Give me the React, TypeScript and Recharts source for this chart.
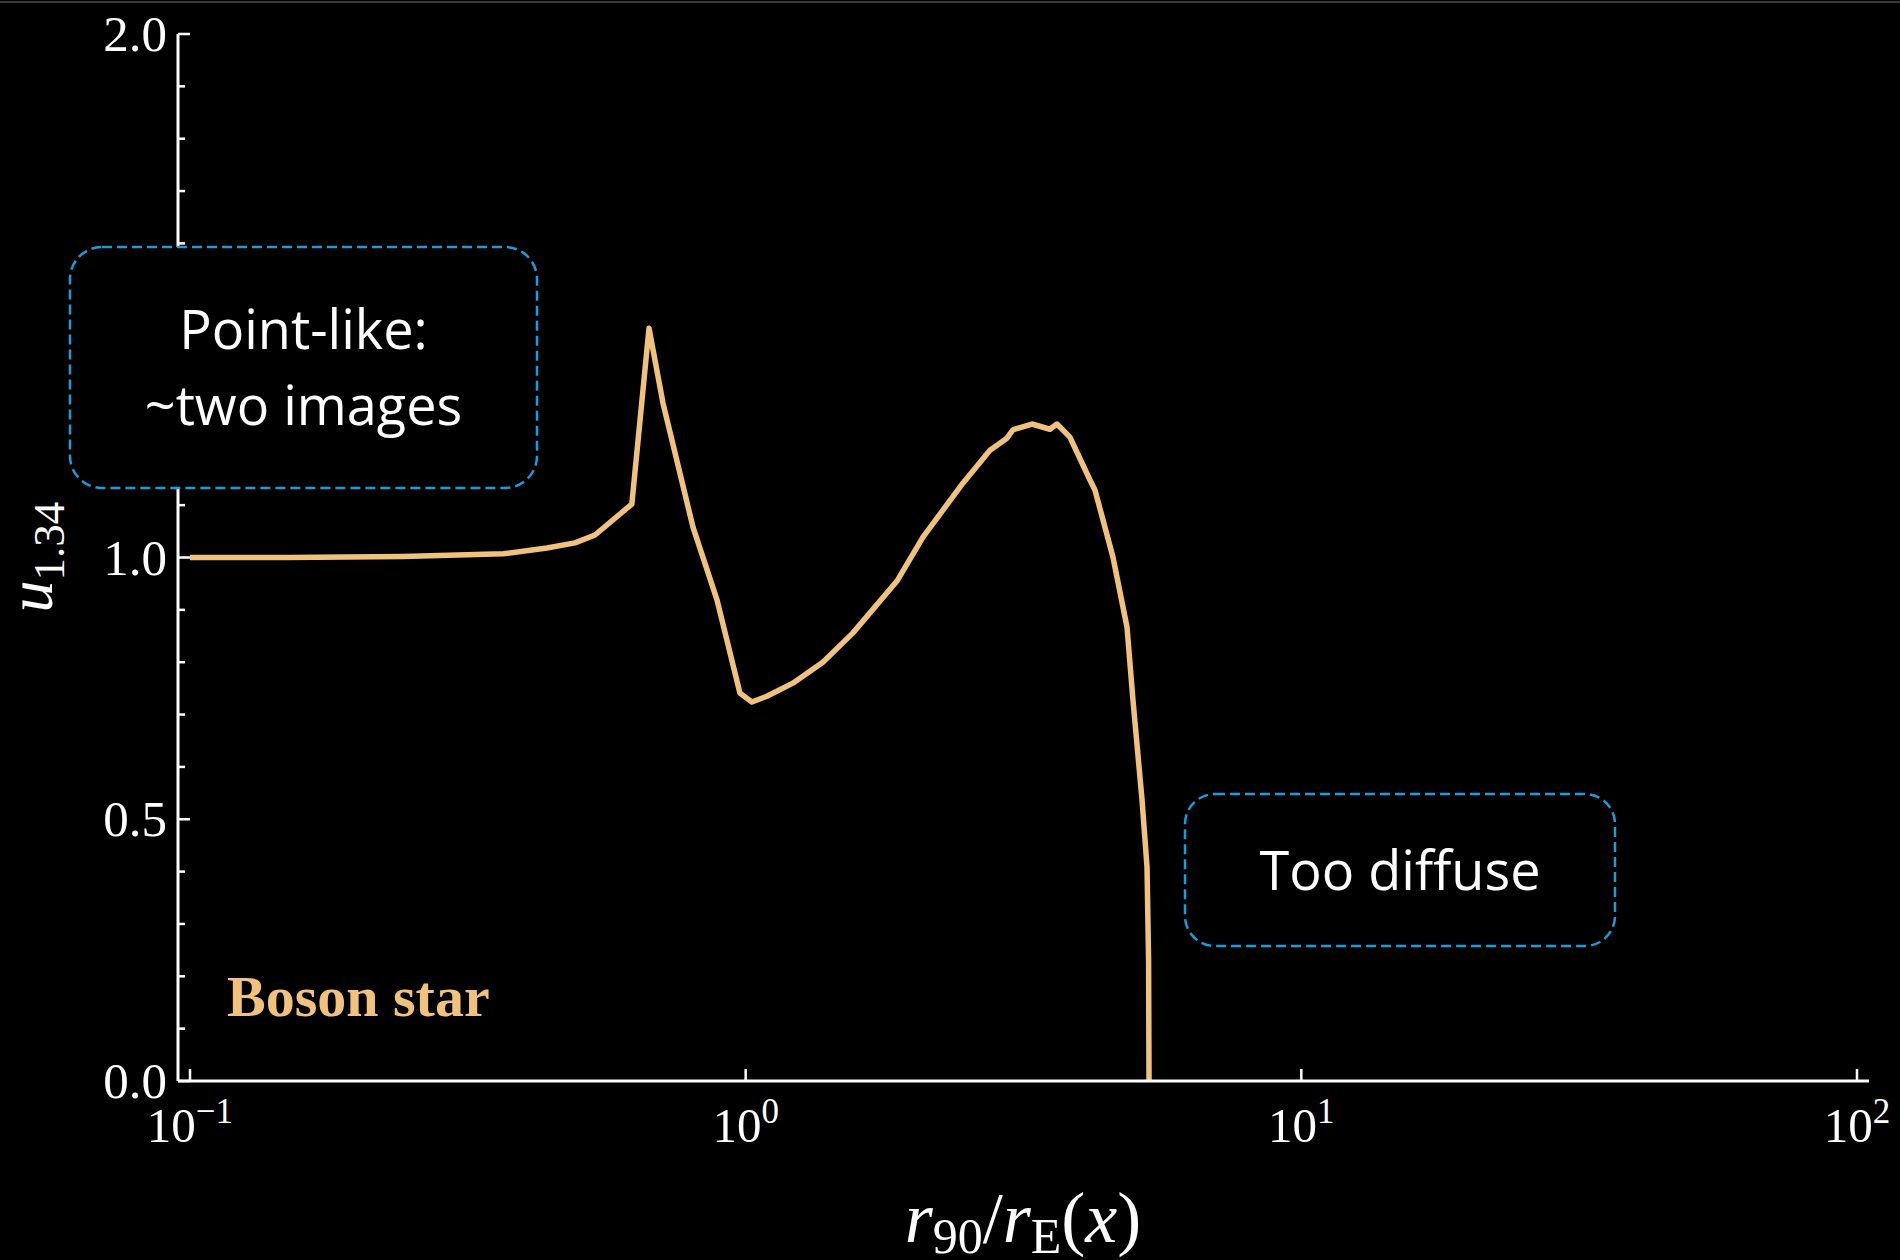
import { LineChart, Line, XAxis, YAxis } from "recharts";

// boson-star curve: r90/rE(x) vs u_1.34
const ratio = [
  0.1, 0.15, 0.2416, 0.366, 0.4388, 0.493, 0.5356, 0.624, 0.67, 0.7099, 0.8039,
  0.888, 0.9766, 1.026, 1.092, 1.216, 1.377, 1.56, 1.872, 2.085, 2.46, 2.752,
  2.953, 3.027, 3.275, 3.528, 3.633, 3.833, 4.165, 4.252, 4.581, 4.856, 4.977,
  5.168, 5.276, 5.31, 5.32,
];
const u134 = [
  1.0, 1.0, 1.002, 1.007, 1.018, 1.028, 1.043, 1.102, 1.438, 1.295, 1.058,
  0.919, 0.741, 0.724, 0.735, 0.76, 0.8, 0.856, 0.955, 1.039, 1.142, 1.205,
  1.228, 1.244, 1.255, 1.245, 1.255, 1.23, 1.148, 1.129, 1.001, 0.867, 0.728,
  0.537, 0.409, 0.231, 0.0,
];

const xTicks = [0.1, 1, 10, 100];
const xTickExp = ["\u22121", "0", "1", "2"];
const yTicks = [
  0, 0.1, 0.2, 0.3, 0.4, 0.5, 0.6, 0.7, 0.8, 0.9, 1.0, 1.1, 1.2, 1.3, 1.4, 1.5,
  1.6, 1.7, 1.8, 1.9, 2.0,
];
const yMajor = [0, 0.5, 1.0, 1.5, 2.0];

const data = ratio.map((x, i) => ({ x, u: u134[i] }));

const X_DOMAIN: [number, number] = [0.09515, 105.1];
const Y_DOMAIN: [number, number] = [0, 2];

const WHITE = "#ffffff";
const GOLD = "#F0C27B";
const BLUE = "#1B9BD7";
const SERIF = "'Liberation Serif', 'DejaVu Serif', serif";
const SANS = "'Open Sans', 'Noto Sans', sans-serif";

const Y_MARGIN = 11;
const X_MARGIN = 20;

function YTick(props: any) {
  const { x, y, payload } = props;
  const v = payload.value as number;
  const major = yMajor.some((m) => Math.abs(m - v) < 1e-6);
  const ax = x + Y_MARGIN;
  return (
    <g>
      <line x1={ax} x2={ax + (major ? 12 : 7)} y1={y} y2={y} stroke={WHITE} strokeWidth={2.5} />
      {major && (
        <text x={x} y={y} dy={17} textAnchor="end" fill={WHITE} fontFamily={SERIF} fontSize={51}>
          {v.toFixed(1)}
        </text>
      )}
    </g>
  );
}

function XTick(props: any) {
  const { x, y, payload } = props;
  const idx = xTicks.findIndex((t) => Math.abs(t - payload.value) < 1e-9);
  const ay = y - X_MARGIN;
  return (
    <g>
      <line x1={x} x2={x} y1={ay} y2={ay - 12} stroke={WHITE} strokeWidth={2.5} />
      <text x={x} y={ay + 61} textAnchor="middle" fill={WHITE} fontFamily={SERIF} fontSize={49}>
        <tspan>10</tspan>
        <tspan dy={-19} fontSize={35}>
          {xTickExp[idx]}
        </tspan>
      </text>
    </g>
  );
}

export default function App() {
  return (
    <div style={{ position: "relative", width: 1900, height: 1260, background: "#000" }}>
      <style>{`body{margin:0;background:#000}`}</style>
      <LineChart
        width={1900}
        height={1260}
        data={data}
        margin={{ top: 34, right: 31, bottom: 79, left: 78 }}
      >
        <XAxis
          xAxisId="b"
          dataKey="x"
          type="number"
          scale="log"
          domain={X_DOMAIN}
          allowDataOverflow
          ticks={xTicks}
          interval={0}
          height={100}
          tickSize={0}
          tickMargin={X_MARGIN}
          tickLine={false}
          tick={<XTick />}
          axisLine={{ stroke: WHITE, strokeWidth: 3 }}
        />
        <XAxis
          xAxisId="t"
          dataKey="x"
          orientation="top"
          type="number"
          scale="log"
          domain={X_DOMAIN}
          allowDataOverflow
          height={0}
          tick={false}
          tickLine={false}
          axisLine={{ stroke: WHITE, strokeWidth: 3 }}
        />
        <YAxis
          yAxisId="l"
          type="number"
          domain={Y_DOMAIN}
          ticks={yTicks}
          interval={0}
          width={100}
          tickSize={0}
          tickMargin={Y_MARGIN}
          tickLine={false}
          tick={<YTick />}
          axisLine={{ stroke: WHITE, strokeWidth: 3 }}
        />
        <YAxis
          yAxisId="r"
          orientation="right"
          type="number"
          domain={Y_DOMAIN}
          width={0}
          tick={false}
          tickLine={false}
          axisLine={{ stroke: WHITE, strokeWidth: 3 }}
        />
        <Line
          xAxisId="b"
          yAxisId="l"
          type="linear"
          dataKey="u"
          stroke={GOLD}
          strokeWidth={5.5}
          strokeLinejoin="round"
          dot={false}
          isAnimationActive={false}
        />
      </LineChart>

      <svg
        width={1900}
        height={1260}
        style={{ position: "absolute", left: 0, top: 0, pointerEvents: "none" }}
      >
        <line x1={0} x2={1900} y1={2} y2={2} stroke="#3a3a3a" strokeWidth={2} />

        {/* annotation boxes */}
        <rect x={70} y={247} width={467} height={241} rx={32} fill="#000" stroke={BLUE} strokeWidth={2.5} strokeDasharray="10 5" />
        <text x={303.5} y={349} textAnchor="middle" fill={WHITE} fontFamily={SANS} fontSize={54}>
          Point-like:
        </text>
        <text x={303.5} y={425} textAnchor="middle" fill={WHITE} fontFamily={SANS} fontSize={54}>
          ~two images
        </text>

        <rect x={1185} y={794} width={430} height={152} rx={30} fill="#000" stroke={BLUE} strokeWidth={2.5} strokeDasharray="10 5" />
        <text x={1400} y={890} textAnchor="middle" fill={WHITE} fontFamily={SANS} fontSize={54}>
          Too diffuse
        </text>

        <text x={227} y={1016} fill={GOLD} fontFamily={SERIF} fontWeight="bold" fontSize={58}>
          Boson star
        </text>

        {/* axis titles */}
        <text x={1023} y={1242} textAnchor="middle" fill={WHITE} fontFamily={SERIF} fontSize={72}>
          <tspan fontStyle="italic">r</tspan>
          <tspan fontSize={50} dy={11}>90</tspan>
          <tspan dy={-11}>/</tspan>
          <tspan fontStyle="italic">r</tspan>
          <tspan fontSize={50} dy={11}>E</tspan>
          <tspan dy={-11}>(</tspan>
          <tspan fontStyle="italic">x</tspan>
          <tspan>)</tspan>
        </text>
        <text transform="rotate(-90)" x={-557} y={52} textAnchor="middle" fill={WHITE} fontFamily={SERIF} fontSize={64}>
          <tspan fontStyle="italic">u</tspan>
          <tspan fontSize={45} dy={12}>1.34</tspan>
        </text>
      </svg>
    </div>
  );
}
